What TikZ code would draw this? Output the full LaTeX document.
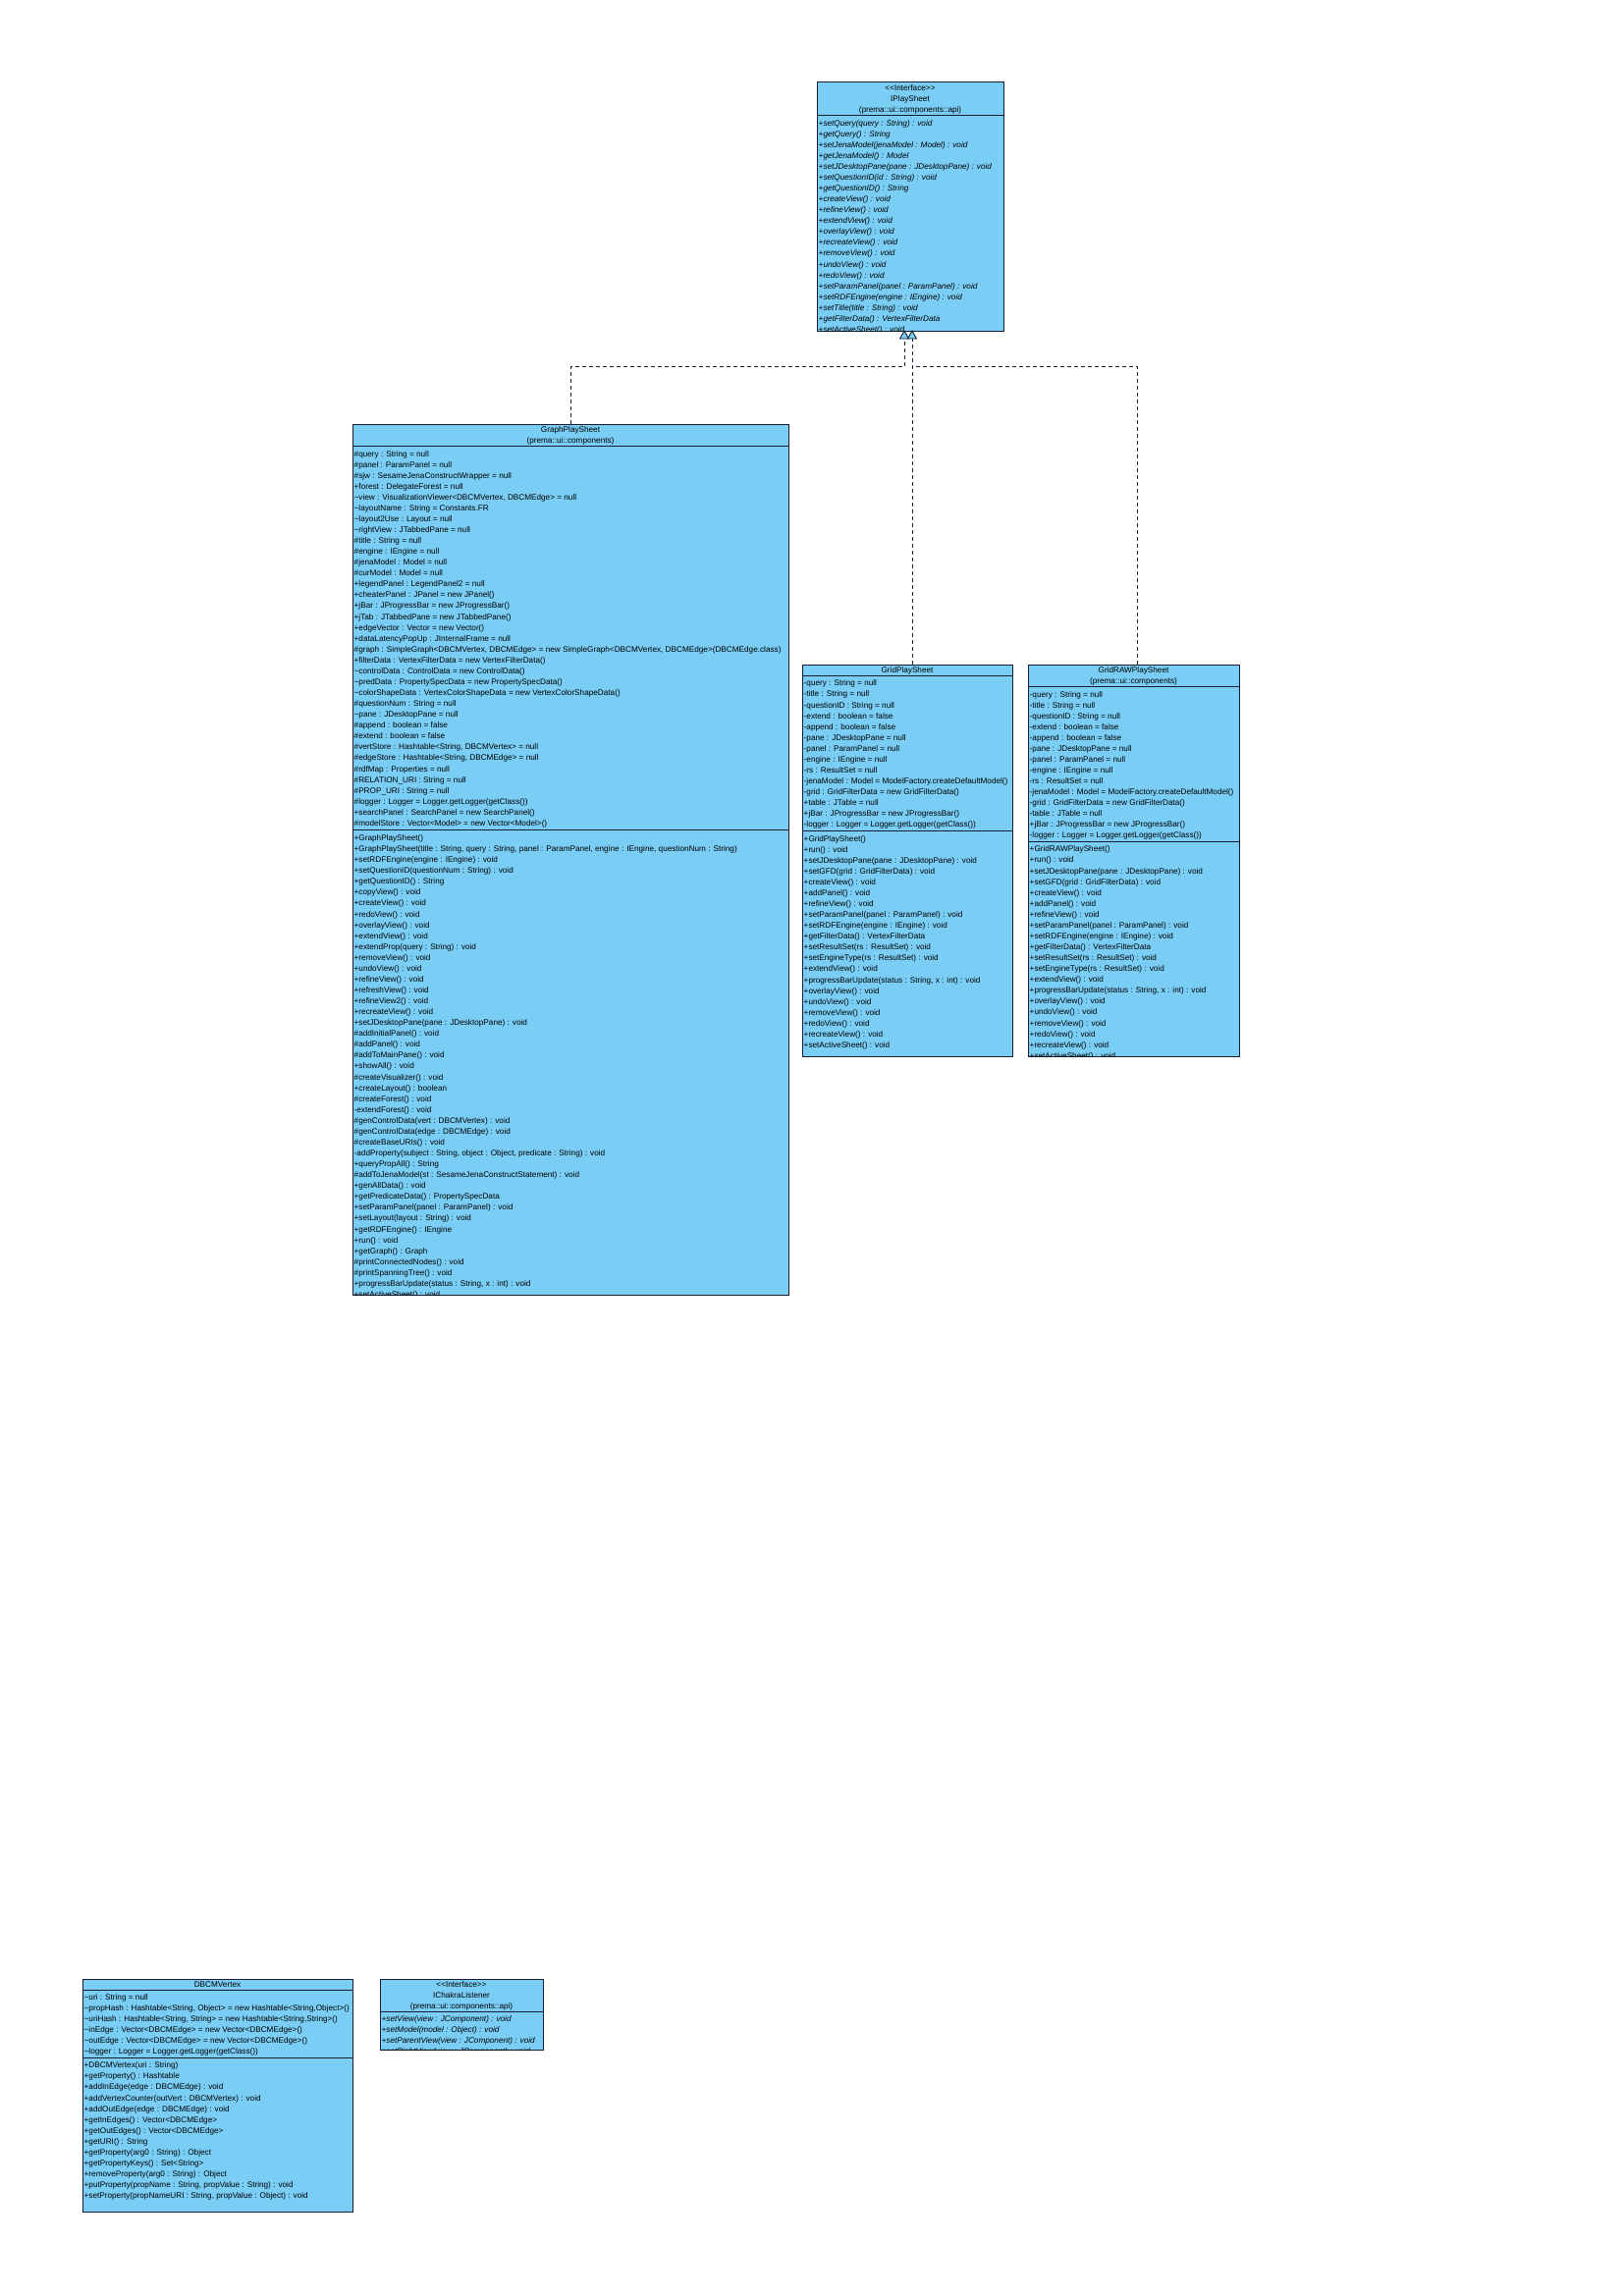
\documentclass[tikz,border=0pt]{standalone}
\usepackage{fontspec}
\setmainfont{Liberation Sans}
\definecolor{umlfill}{RGB}{122,206,245}
\definecolor{umlline}{RGB}{28,28,48}
\newcommand\vpk{\textasciitilde}
\newcommand\umlfont{\fontsize{8.2}{10}\selectfont}
% #1 name prefix, #2 x, #3 y of first row centre, #4 extra style, #5 list of rows
\newcommand\umlrows[5]{\foreach \t [count=\i] in {#5}{\node[umlrow,#4] (#1\i) at ({#2},{#3+(\i-1)*11.07}) {\t};}}
\tikzset{
  umlbox/.style={draw=umlline, fill=umlfill, line width=1pt, inner sep=0pt, outer sep=0pt, anchor=north west},
  umlrow/.style={anchor=west, inner sep=0pt, text height=6.5pt, text depth=1.5pt, font=\umlfont},
  umlhead/.style={anchor=center, inner sep=0pt, text height=6.5pt, text depth=1.5pt, font=\umlfont},
  umlsep/.style={draw=umlline, line width=1pt},
  realize/.style={draw=umlline, line width=0.9pt, dash pattern=on 4pt off 3pt},
  trihead/.style={draw=umlline, fill=umlfill, line width=0.9pt, line join=miter},
  ital/.style={font=\umlfont\itshape}
}
\begin{document}
\begin{tikzpicture}[x=1pt,y=-1pt]
\useasboundingbox (0,0) rectangle (1653,2339);
\fill[white] (0,0) rectangle (1653,2339);

% ---------------- connectors ----------------
\coordinate (triA) at (921,337);
\coordinate (triB) at (929,337);
\coordinate (baseA) at (921,345);
\coordinate (baseB) at (929,345);
\coordinate (bendA) at (921,373.5);
\coordinate (bendB) at (929,373.5);
\coordinate (grTop) at (929,677);
\coordinate (rawTop) at (1158,677);

% ---------------- IPlaySheet ----------------
\node[umlbox, minimum width=190pt, minimum height=253pt] (ips) at (832,84) {};
\node[umlhead] (ipsh1) at (927,89.6) {<{}<Interface>{}>};
\node[umlhead] (ipsh2) at (927,100.7) {IPlaySheet};
\node[umlhead] (ipsh3) at (927,111.8) {(prema::ui::components::api)};
\draw[umlsep] (832,117.3) -- (1022,117.3);
\begin{scope}
\clip (832,84) rectangle (1022,337);
\umlrows{ipsm}{833.5}{125.6}{ital}{
{+setQuery(query : String) : void},
{+getQuery() : String},
{+setJenaModel(jenaModel : Model) : void},
{+getJenaModel() : Model},
{+setJDesktopPane(pane : JDesktopPane) : void},
{+setQuestionID(id : String) : void},
{+getQuestionID() : String},
{+createView() : void},
{+refineView() : void},
{+extendView() : void},
{+overlayView() : void},
{+recreateView() : void},
{+removeView() : void},
{+undoView() : void},
{+redoView() : void},
{+setParamPanel(panel : ParamPanel) : void},
{+setRDFEngine(engine : IEngine) : void},
{+setTitle(title : String) : void},
{+getFilterData() : VertexFilterData},
{+setActiveSheet() : void}}
\end{scope}

% ---------------- GraphPlaySheet ----------------
\node[umlbox, minimum width=444pt, minimum height=887pt] (gps) at (359,432) {};
\node[umlhead] (gpsh1) at (581,437.6) {GraphPlaySheet};
\node[umlhead] (gpsh2) at (581,448.7) {(prema::ui::components)};
\draw[umlsep] (359,454.2) -- (803,454.2);
\draw[umlsep] (359,845.2) -- (803,845.2);
\begin{scope}
\clip (359,432) rectangle (803,1319);
\umlrows{gpsa}{360.5}{462.5}{}{
{\#query : String = null},
{\#panel : ParamPanel = null},
{\#sjw : SesameJenaConstructWrapper = null},
{+forest : DelegateForest = null},
{\vpk{}view : VisualizationViewer<DBCMVertex, DBCMEdge> = null},
{\vpk{}layoutName : String = Constants.FR},
{\vpk{}layout2Use : Layout = null},
{\vpk{}rightView : JTabbedPane = null},
{\#title : String = null},
{\#engine : IEngine = null},
{\#jenaModel : Model = null},
{\#curModel : Model = null},
{+legendPanel : LegendPanel2 = null},
{+cheaterPanel : JPanel = new JPanel()},
{+jBar : JProgressBar = new JProgressBar()},
{+jTab : JTabbedPane = new JTabbedPane()},
{+edgeVector : Vector = new Vector()},
{+dataLatencyPopUp : JInternalFrame = null},
{\#graph : SimpleGraph<DBCMVertex, DBCMEdge> = new SimpleGraph<DBCMVertex, DBCMEdge>(DBCMEdge.class)},
{+filterData : VertexFilterData = new VertexFilterData()},
{\vpk{}controlData : ControlData = new ControlData()},
{\vpk{}predData : PropertySpecData = new PropertySpecData()},
{\vpk{}colorShapeData : VertexColorShapeData = new VertexColorShapeData()},
{\#questionNum : String = null},
{\vpk{}pane : JDesktopPane = null},
{\#append : boolean = false},
{\#extend : boolean = false},
{\#vertStore : Hashtable<String, DBCMVertex> = null},
{\#edgeStore : Hashtable<String, DBCMEdge> = null},
{\#rdfMap : Properties = null},
{\#RELATION\_URI : String = null},
{\#PROP\_URI : String = null},
{\#logger : Logger = Logger.getLogger(getClass())},
{+searchPanel : SearchPanel = new SearchPanel()},
{\#modelStore : Vector<Model> = new Vector<Model>()}}
\umlrows{gpsm}{360.5}{854}{}{
{+GraphPlaySheet()},
{+GraphPlaySheet(title : String, query : String, panel : ParamPanel, engine : IEngine, questionNum : String)},
{+setRDFEngine(engine : IEngine) : void},
{+setQuestionID(questionNum : String) : void},
{+getQuestionID() : String},
{+copyView() : void},
{+createView() : void},
{+redoView() : void},
{+overlayView() : void},
{+extendView() : void},
{+extendProp(query : String) : void},
{+removeView() : void},
{+undoView() : void},
{+refineView() : void},
{+refreshView() : void},
{+refineView2() : void},
{+recreateView() : void},
{+setJDesktopPane(pane : JDesktopPane) : void},
{\#addInitialPanel() : void},
{\#addPanel() : void},
{\#addToMainPane() : void},
{+showAll() : void},
{\#createVisualizer() : void},
{+createLayout() : boolean},
{\#createForest() : void},
{-extendForest() : void},
{\#genControlData(vert : DBCMVertex) : void},
{\#genControlData(edge : DBCMEdge) : void},
{\#createBaseURIs() : void},
{-addProperty(subject : String, object : Object, predicate : String) : void},
{+queryPropAll() : String},
{\#addToJenaModel(st : SesameJenaConstructStatement) : void},
{+genAllData() : void},
{+getPredicateData() : PropertySpecData},
{+setParamPanel(panel : ParamPanel) : void},
{+setLayout(layout : String) : void},
{+getRDFEngine() : IEngine},
{+run() : void},
{+getGraph() : Graph},
{\#printConnectedNodes() : void},
{\#printSpanningTree() : void},
{+progressBarUpdate(status : String, x : int) : void},
{+setActiveSheet() : void}}
\end{scope}

% ---------------- GridPlaySheet ----------------
\node[umlbox, minimum width=214pt, minimum height=399pt] (gr) at (817,677) {};
\node[umlhead] (grh1) at (924,682.6) {GridPlaySheet};
\draw[umlsep] (817,688.1) -- (1031,688.1);
\draw[umlsep] (817,846.3) -- (1031,846.3);
\begin{scope}
\clip (817,677) rectangle (1031,1076);
\umlrows{gra}{818.5}{696.4}{}{
{-query : String = null},
{-title : String = null},
{-questionID : String = null},
{-extend : boolean = false},
{-append : boolean = false},
{-pane : JDesktopPane = null},
{-panel : ParamPanel = null},
{-engine : IEngine = null},
{-rs : ResultSet = null},
{-jenaModel : Model = ModelFactory.createDefaultModel()},
{-grid : GridFilterData = new GridFilterData()},
{+table : JTable = null},
{+jBar : JProgressBar = new JProgressBar()},
{-logger : Logger = Logger.getLogger(getClass())}}
\umlrows{grm}{818.5}{854.6}{}{
{+GridPlaySheet()},
{+run() : void},
{+setJDesktopPane(pane : JDesktopPane) : void},
{+setGFD(grid : GridFilterData) : void},
{+createView() : void},
{+addPanel() : void},
{+refineView() : void},
{+setParamPanel(panel : ParamPanel) : void},
{+setRDFEngine(engine : IEngine) : void},
{+getFilterData() : VertexFilterData},
{+setResultSet(rs : ResultSet) : void},
{+setEngineType(rs : ResultSet) : void},
{+extendView() : void},
{+progressBarUpdate(status : String, x : int) : void},
{+overlayView() : void},
{+undoView() : void},
{+removeView() : void},
{+redoView() : void},
{+recreateView() : void},
{+setActiveSheet() : void}}
\end{scope}

% ---------------- GridRAWPlaySheet ----------------
\node[umlbox, minimum width=215pt, minimum height=399pt] (raw) at (1047,677) {};
\node[umlhead] (rawh1) at (1154.5,682.6) {GridRAWPlaySheet};
\node[umlhead] (rawh2) at (1154.5,693.7) {(prema::ui::components)};
\draw[umlsep] (1047,699.2) -- (1262,699.2);
\draw[umlsep] (1047,857.4) -- (1262,857.4);
\begin{scope}
\clip (1047,677) rectangle (1262,1076);
\umlrows{rawa}{1048.5}{707.5}{}{
{-query : String = null},
{-title : String = null},
{-questionID : String = null},
{-extend : boolean = false},
{-append : boolean = false},
{-pane : JDesktopPane = null},
{-panel : ParamPanel = null},
{-engine : IEngine = null},
{-rs : ResultSet = null},
{-jenaModel : Model = ModelFactory.createDefaultModel()},
{-grid : GridFilterData = new GridFilterData()},
{-table : JTable = null},
{+jBar : JProgressBar = new JProgressBar()},
{-logger : Logger = Logger.getLogger(getClass())}}
\umlrows{rawm}{1048.5}{865.4}{}{
{+GridRAWPlaySheet()},
{+run() : void},
{+setJDesktopPane(pane : JDesktopPane) : void},
{+setGFD(grid : GridFilterData) : void},
{+createView() : void},
{+addPanel() : void},
{+refineView() : void},
{+setParamPanel(panel : ParamPanel) : void},
{+setRDFEngine(engine : IEngine) : void},
{+getFilterData() : VertexFilterData},
{+setResultSet(rs : ResultSet) : void},
{+setEngineType(rs : ResultSet) : void},
{+extendView() : void},
{+progressBarUpdate(status : String, x : int) : void},
{+overlayView() : void},
{+undoView() : void},
{+removeView() : void},
{+redoView() : void},
{+recreateView() : void},
{+setActiveSheet() : void}}
\end{scope}

% ---------------- DBCMVertex ----------------
\node[umlbox, minimum width=275pt, minimum height=237pt] (dv) at (84,2016) {};
\node[umlhead] (dvh1) at (221.5,2021.6) {DBCMVertex};
\draw[umlsep] (84,2027.1) -- (359,2027.1);
\draw[umlsep] (84,2096.4) -- (359,2096.4);
\begin{scope}
\clip (84,2016) rectangle (359,2253);
\umlrows{dva}{85.5}{2035}{}{
{\vpk{}uri : String = null},
{\vpk{}propHash : Hashtable<String, Object> = new Hashtable<String,Object>()},
{\vpk{}uriHash : Hashtable<String, String> = new Hashtable<String,String>()},
{\vpk{}inEdge : Vector<DBCMEdge> = new Vector<DBCMEdge>()},
{\vpk{}outEdge : Vector<DBCMEdge> = new Vector<DBCMEdge>()},
{\vpk{}logger : Logger = Logger.getLogger(getClass())}}
\umlrows{dvm}{85.5}{2104.3}{}{
{+DBCMVertex(uri : String)},
{+getProperty() : Hashtable},
{+addInEdge(edge : DBCMEdge) : void},
{+addVertexCounter(outVert : DBCMVertex) : void},
{+addOutEdge(edge : DBCMEdge) : void},
{+getInEdges() : Vector<DBCMEdge>},
{+getOutEdges() : Vector<DBCMEdge>},
{+getURI() : String},
{+getProperty(arg0 : String) : Object},
{+getPropertyKeys() : Set<String>},
{+removeProperty(arg0 : String) : Object},
{+putProperty(propName : String, propValue : String) : void},
{+setProperty(propNameURI : String, propValue : Object) : void}}
\end{scope}

% ---------------- IChakraListener ----------------
\node[umlbox, minimum width=166pt, minimum height=72pt] (icl) at (387,2016) {};
\node[umlhead] (iclh1) at (470,2021.6) {<{}<Interface>{}>};
\node[umlhead] (iclh2) at (470,2032.7) {IChakraListener};
\node[umlhead] (iclh3) at (470,2043.8) {(prema::ui::components::api)};
\draw[umlsep] (387,2049.3) -- (553,2049.3);
\begin{scope}
\clip (387,2016) rectangle (553,2088);
\umlrows{iclm}{388.5}{2056.5}{ital}{
{+setView(view : JComponent) : void},
{+setModel(model : Object) : void},
{+setParentView(view : JComponent) : void},
{+setRightView(view : JComponent) : void}}
\end{scope}

% ---------------- realizations ----------------
\draw[realize] (gps.north) |- (bendA) -- (baseA);
\draw[realize] (grTop) -- (baseB);
\draw[realize] (rawTop) |- (bendB);
\draw[trihead] (triA) -- ++(-4.5,8) -- ++(9,0) -- cycle;
\draw[trihead] (triB) -- ++(-4.5,8) -- ++(9,0) -- cycle;
\end{tikzpicture}
\end{document}
